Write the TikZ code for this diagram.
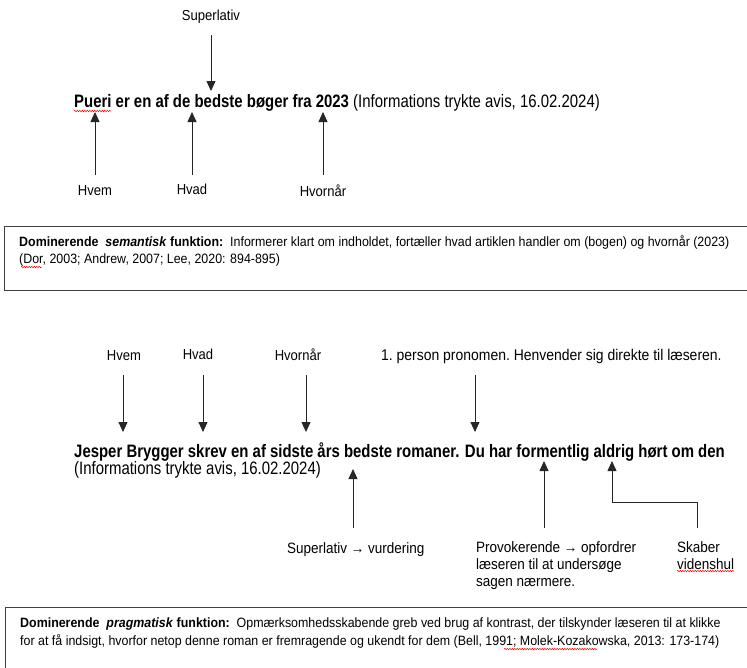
\documentclass[tikz,border=0pt]{standalone}
\usepackage{fontspec}
\setmainfont{Liberation Sans}[FakeStretch=0.83]
\newfontfamily\fhead{Liberation Sans}[FakeStretch=0.83]
\newfontfamily\flab{Liberation Sans}[FakeStretch=0.9]
\newfontfamily\fboxtxt{Liberation Sans}[FakeStretch=0.92]
\usetikzlibrary{arrows.meta,decorations.pathmorphing}
\begin{document}
\begin{tikzpicture}[x=1pt,y=-1pt,
  lbl/.style={inner sep=0pt, font=\flab\fontsize{14.5}{17}\selectfont},
  lbl2/.style={inner sep=0pt, font=\flab\fontsize{15}{17}\selectfont, align=left},
  head/.style={inner sep=0pt, font=\fhead\bfseries\fontsize{18}{21}\selectfont},
  src/.style={inner sep=0pt, font=\fhead\fontsize{18}{21}\selectfont},
  boxtxt/.style={inner sep=0pt, font=\fboxtxt\fontsize{13.5}{16}\selectfont},
  arr/.style={draw=black!85, line width=0.8pt, -{Triangle[width=9pt,length=10pt]}},
  conn/.style={draw=black!85, line width=0.8pt},
  box/.style={draw=black!75, line width=0.9pt, inner sep=0pt},
  squig/.style={draw=red, line width=0.5pt, decorate, decoration={snake,amplitude=0.7pt,segment length=2.5pt}}]
\useasboundingbox (0,0) rectangle (747,667);

% ---------- top example ----------
\node[lbl, anchor=base] (sup1) at (211,20) {Superlativ};
\node[head, anchor=base west] (l1) at (74,107) {Pueri er en af de bedste bøger fra 2023 {\mdseries(Informations trykte avis, 16.02.2024)}};
\coordinate (s1a) at (211,35);
\coordinate (s1b) at (211,91);
\draw[arr] (s1a) -- (s1b);

\node[lbl, anchor=base] (hvem1) at (95,195) {Hvem};
\node[lbl, anchor=base] (hvad1) at (192,194) {Hvad};
\node[lbl, anchor=base] (hvor1) at (323,196) {Hvornår};
\coordinate (u1a) at (95,175);  \coordinate (u1b) at (95,112);
\coordinate (u2a) at (192,175); \coordinate (u2b) at (192,112);
\coordinate (u3a) at (323,175); \coordinate (u3b) at (323,112);
\draw[arr] (u1a) -- (u1b);
\draw[arr] (u2a) -- (u2b);
\draw[arr] (u3a) -- (u3b);
\coordinate (q1a) at (74,111); \coordinate (q1b) at (111,111);
\draw[squig] (q1a) -- (q1b);

% ---------- box 1 ----------
\node[box, anchor=north west, minimum width=750pt, minimum height=64pt] (b1) at (4,226) {};
\node[boxtxt, anchor=base west] (b1l1) at (19,246) {\textbf{Dominerende\ \ \textit{semantisk} funktion:}\ \ Informerer klart om indholdet, fortæller hvad artiklen handler om (bogen) og hvornår (2023)};
\node[boxtxt, anchor=base west] (b1l2) at (19,263) {(Dor, 2003; Andrew, 2007; Lee, 2020: 894-895)};
\coordinate (q2a) at (21,267); \coordinate (q2b) at (42,267);
\draw[squig] (q2a) -- (q2b);

% ---------- bottom example ----------
\node[lbl, anchor=base] (hvem2) at (124,360) {Hvem};
\node[lbl, anchor=base] (hvad2) at (198,359) {Hvad};
\node[lbl, anchor=base] (hvor2) at (298,360) {Hvornår};
\node[lbl, anchor=base west, font=\flab\fontsize{15.5}{18}\selectfont\frenchspacing] (pers) at (381,360) {1. person pronomen. Henvender sig direkte til læseren.};
\coordinate (d1a) at (123,375); \coordinate (d1b) at (123,432);
\coordinate (d2a) at (203,375); \coordinate (d2b) at (203,432);
\coordinate (d3a) at (306,375); \coordinate (d3b) at (306,432);
\coordinate (d4a) at (475,375); \coordinate (d4b) at (475,432);
\draw[arr] (d1a) -- (d1b);
\draw[arr] (d2a) -- (d2b);
\draw[arr] (d3a) -- (d3b);
\draw[arr] (d4a) -- (d4b);

\node[head, anchor=base west] (l2) at (74,457) {Jesper Brygger skrev en af sidste års bedste romaner. Du har formentlig aldrig hørt om den};
\node[src, anchor=base west] (l2s) at (74,474) {(Informations trykte avis, 16.02.2024)};

\coordinate (e1a) at (353,528); \coordinate (e1b) at (353,469);
\coordinate (e2a) at (544,528); \coordinate (e2b) at (544,461);
\coordinate (e3a) at (697,528); \coordinate (e3m) at (697,502); \coordinate (e3n) at (612,502); \coordinate (e3b) at (612,461);
\draw[arr] (e1a) -- (e1b);
\draw[arr] (e2a) -- (e2b);
\draw[arr] (e3a) -- (e3m) -- (e3n) -- (e3b);

\node[lbl2, anchor=base west] (vurd) at (287,553) {Superlativ → vurdering};
\node[lbl2, anchor=north west] (prov) at (476,541) {Provokerende → opfordrer\\læseren til at undersøge\\sagen nærmere.};
\node[lbl2, anchor=north west] (skab) at (677,541) {Skaber\\videnshul};
\coordinate (q3a) at (677,571); \coordinate (q3b) at (734,571);
\draw[squig] (q3a) -- (q3b);

% ---------- box 2 ----------
\node[box, anchor=north west, minimum width=750pt, minimum height=70pt] (b2) at (5,607) {};
\node[boxtxt, anchor=base west] (b2l1) at (20,627) {\textbf{Dominerende\ \ \textit{pragmatisk} funktion:}\ \ Opmærksomhedsskabende greb ved brug af kontrast, der tilskynder læseren til at klikke};
\node[boxtxt, anchor=base west] (b2l2) at (20,645) {for at få indsigt, hvorfor netop denne roman er fremragende og ukendt for dem (Bell, 1991; Molek-Kozakowska, 2013: 173-174)};
\coordinate (q4a) at (504,649); \coordinate (q4b) at (597,649);
\draw[squig] (q4a) -- (q4b);
\end{tikzpicture}
\end{document}
